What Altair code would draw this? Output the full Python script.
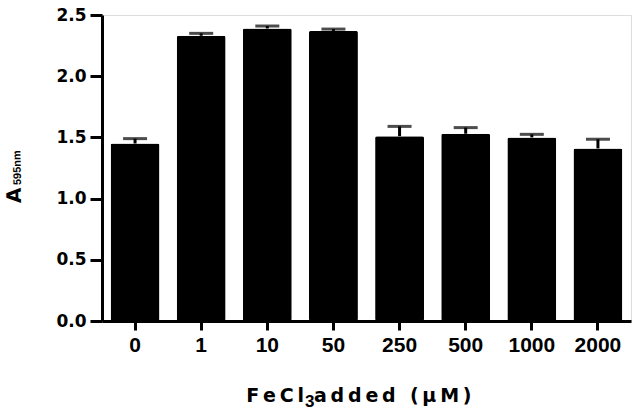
import altair as alt
import pandas as pd

cats = ["0", "1", "10", "50", "250", "500", "1000", "2000"]
means = [1.45, 2.33, 2.39, 2.37, 1.51, 1.53, 1.50, 1.41]
errs = [0.04, 0.02, 0.02, 0.015, 0.08, 0.05, 0.025, 0.075]
y_ticks = [0.0, 0.5, 1.0, 1.5, 2.0, 2.5]

df = pd.DataFrame({"c": cats, "m": means, "e": errs})
df["top"] = df["m"] + df["e"]

FONT = "Liberation Sans"
WIDE = "DejaVu Sans"
W, H = 529, 306
ROT = 269

x_enc = alt.X(
    "c:N", sort=cats,
    scale=alt.Scale(paddingInner=0.26, paddingOuter=0.13),
    axis=alt.Axis(
        title=None, labelAngle=0, labelFont=FONT, labelFontSize=21,
        labelFontWeight="bold", labelColor="black", labelPadding=4,
        tickSize=9, tickWidth=3, tickColor="black", domainWidth=3,
        domainColor="black", labelOverlap=False, grid=False,
    ),
)
y_scale = alt.Scale(domain=[0, 2.5], nice=False, zero=True)
y_axis = alt.Axis(
    title=None, values=y_ticks, format=".1f", labelFont=WIDE,
    labelFontSize=17, labelFontWeight="bold", labelColor="black",
    labelPadding=4, tickSize=12, tickWidth=3, tickColor="black",
    domainWidth=3, domainColor="black", grid=False,
)

base = alt.Chart(df)

bars = base.mark_bar(color="black", cornerRadius=2).encode(
    x=x_enc,
    y=alt.Y("m:Q", scale=y_scale, axis=y_axis),
)
whisk = base.mark_rule(color="black", strokeWidth=3).encode(
    x=alt.X("c:N", sort=cats), y="m:Q", y2="top:Q"
)
caps = base.mark_tick(color="black", thickness=3, size=24, orient="horizontal").encode(
    x=alt.X("c:N", sort=cats), y="top:Q"
)

one = pd.DataFrame({"k": [0]})

t_left = alt.Chart(one).mark_text(
    text="F\u2009e\u2009C\u2009l", font=WIDE, fontSize=19, fontWeight="bold",
    align="right", baseline="alphabetic", color="black",
).encode(x=alt.value(202), y=alt.value(387))
t_sub = alt.Chart(one).mark_text(
    text="3", font=FONT, fontSize=17, fontWeight="bold",
    align="left", baseline="alphabetic", color="black",
).encode(x=alt.value(203), y=alt.value(392))
t_right = alt.Chart(one).mark_text(
    text="a\u2009d\u2009d\u2009e\u2009d\u2009 \u2009(\u2009\u03bc\u2009M\u2009)", font=WIDE,
    fontSize=19, fontWeight="bold", align="left", baseline="alphabetic",
    color="black",
).encode(x=alt.value(212), y=alt.value(387))

ya = alt.Chart(one).mark_text(
    text="A", font=WIDE, fontSize=20, fontWeight="bold", angle=ROT,
    align="left", baseline="alphabetic", color="black",
).encode(x=alt.value(-81), y=alt.value(188))
ysub = alt.Chart(one).mark_text(
    text="595nm", font=FONT, fontSize=11, fontWeight="bold", angle=ROT,
    align="left", baseline="alphabetic", color="black",
).encode(x=alt.value(-81), y=alt.value(170))

chart = alt.layer(bars, whisk, caps, t_left, t_sub, t_right, ya, ysub).properties(
    width=W, height=H,
    autosize=alt.AutoSizeParams(type="none"),
    padding={"left": 102, "top": 15, "right": 3, "bottom": 90},
).configure_view(stroke=None).configure(background="white")

chart.save("out.html", embed_options={"renderer": "svg", "actions": False})
